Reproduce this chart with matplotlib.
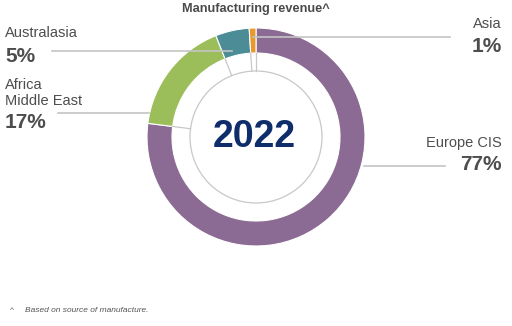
import matplotlib.pyplot as plt
import numpy as np

regions = ['Europe CIS', 'Africa\nMiddle East', 'Australasia', 'Asia']
shares = [77, 17, 5, 1]
share_labels = ['77%', '17%', '5%', '1%']
colors = ['#8B6B93', '#9BBD5A', '#4B8C96', '#E69A2E']

W, H = 512, 326
fig = plt.figure(figsize=(W / 100, H / 100), dpi=100)
ax = fig.add_axes([0, 0, 1, 1])

# work in pixel-ish coords, y measured from the bottom
cx, cy = 256, H - 137
r_out, r_in, r_circ = 109, 84, 66

wedges, _ = ax.pie(shares, colors=colors, startangle=90, counterclock=False,
                   center=(cx, cy), radius=r_out,
                   wedgeprops=dict(width=r_out - r_in, edgecolor='white', linewidth=0.8))

# thin grey circle inside the ring
ax.add_patch(plt.Circle((cx, cy), r_circ, fill=False, edgecolor='#c8c8c8', lw=0.9))

# grey radial separators between ring and inner circle
bounds = 90 - np.cumsum(shares) / sum(shares) * 360
for a in bounds:
    t = np.deg2rad(a)
    ax.plot([cx + r_circ * np.cos(t), cx + r_in * np.cos(t)],
            [cy + r_circ * np.sin(t), cy + r_in * np.sin(t)], color='#c8c8c8', lw=0.9)

ax.text(cx - 2, cy, '2022', ha='center', va='center', fontsize=27, fontweight='bold',
        color='#0F2D6B', family='Liberation Sans')

ax.text(cx, H - 9, 'Manufacturing revenue^', ha='center', va='center', fontsize=9.2,
        fontweight='bold', color='#4a4a4a', family=['Liberation Sans Narrow', 'Liberation Sans'])

# leader lines
lc = '#c4c4c4'
ax.plot([253, 450], [H - 37, H - 37], color=lc, lw=1.2)
ax.plot([52, 232], [H - 51, H - 51], color=lc, lw=1.2)
ax.plot([58, 149], [H - 113, H - 113], color=lc, lw=1.2)
ax.plot([364, 445], [H - 166, H - 166], color=lc, lw=1.2)

tc = '#4d4d4d'
fam = 'Liberation Sans'
# labels (name, percent)
ax.text(502, H - 24, regions[3], ha='right', va='center', fontsize=10.5, color=tc, family=fam)
ax.text(502, H - 46, share_labels[3], ha='right', va='center', fontsize=15, fontweight='bold', color=tc, family=fam)
ax.text(5, H - 33, regions[2], ha='left', va='center', fontsize=10.5, color=tc, family=fam)
ax.text(5, H - 56, share_labels[2], ha='left', va='center', fontsize=15, fontweight='bold', color=tc, family=fam)
for i, line in enumerate(regions[1].split('\n')):
    ax.text(5, H - 85 - 16 * i, line, ha='left', va='center', fontsize=10.5, color=tc, family=fam)
ax.text(5, H - 122, share_labels[1], ha='left', va='center', fontsize=15, fontweight='bold', color=tc, family=fam)
ax.text(502, H - 143, regions[0], ha='right', va='center', fontsize=10.5, color=tc, family=fam)
ax.text(502, H - 165, share_labels[0], ha='right', va='center', fontsize=15, fontweight='bold', color=tc, family=fam)

ax.text(10, H - 310, '^', ha='left', va='center', fontsize=6, color='#555555', family=fam)
ax.text(25, H - 310, 'Based on source of manufacture.', ha='left', va='center', fontsize=6,
        style='italic', color='#555555', family=fam)

ax.set_xlim(0, W)
ax.set_ylim(0, H)
ax.set_aspect('auto')
ax.axis('off')

fig.savefig('out.png', dpi=100)
